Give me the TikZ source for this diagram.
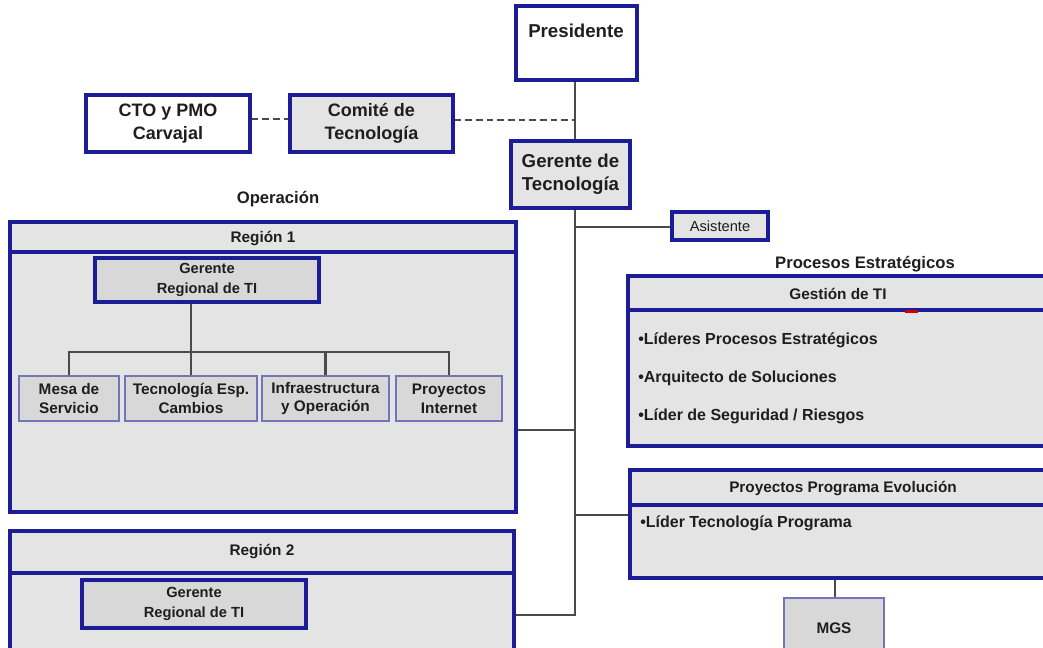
\documentclass[tikz,border=0pt]{standalone}
\usepackage{fontspec}
\setmainfont{Liberation Sans}
\definecolor{frame}{HTML}{1C1C96}
\definecolor{soft}{HTML}{7474B8}
\definecolor{panel}{HTML}{E4E4E4}
\definecolor{innerfill}{HTML}{D8D8D8}
\definecolor{wire}{HTML}{4A4A4A}
\definecolor{ink}{HTML}{1E1E1E}
\newcommand{\fs}[2]{\fontsize{#1}{#2}\selectfont}
\begin{document}
\begin{tikzpicture}[x=0.75pt,y=-0.75pt,
  size/.style 2 args={minimum width=#1*0.75pt,minimum height=#2*0.75pt},
  box/.style={draw=frame,line width=2.5pt,fill=panel,inner sep=0pt,text=ink,align=center,font=\bfseries\fs{13.5}{17}},
  whitebox/.style={box,fill=white},
  panelbox/.style={draw=frame,line width=2.5pt,fill=panel,inner sep=0pt},
  subbox/.style={draw=frame,line width=2.3pt,fill=innerfill,inner sep=0pt,text=ink,align=center,font=\bfseries\fs{11}{14.5}},
  unitbox/.style={draw=soft,line width=1.8pt,fill=innerfill,inner sep=0pt,text=ink,align=center,font=\bfseries\fs{11.5}{14}},
  hdr/.style={text=ink,font=\bfseries\fs{11.5}{14},inner sep=0pt},
  bullet/.style={text=ink,font=\bfseries\fs{12}{14},inner sep=0pt,anchor=west},
  title/.style={text=ink,font=\bfseries\fs{12.5}{14},inner sep=0pt},
  rule/.style={draw=frame,line width=2.5pt},
  link/.style={draw=wire,line width=1.6pt},
  dotlink/.style={draw=wire,line width=1.6pt,dash pattern=on 5pt off 3pt}]
\useasboundingbox (0,0) rectangle (1043,647);
\clip (0,0) rectangle (1043,647);

% top of the chart
\node[whitebox,size={121}{74}] (pres) at (576.5,43) {};
\node[text=ink,font=\bfseries\fs{14}{17},inner sep=0pt] (prestext) at (576,31) {Presidente};
\node[whitebox,size={164}{57}] (cto) at (168,123.5) {CTO y PMO\\Carvajal};
\node[box,size={163}{57}] (comite) at (371.5,123.5) {Comit\'e de\\Tecnolog\'ia};
\node[box,font=\bfseries\fs{14}{17},size={119}{67}] (gtec) at (570.5,174.5) {Gerente de\\Tecnolog\'ia};
\node[box,font=\fs{11}{13},line width=2.3pt,size={96}{28}] (asis) at (720,226) {Asistente};

% trunk and junction points
\coordinate (trunk) at (575,615);
\coordinate (j1) at (575,430);
\coordinate (j2) at (575,515);
\coordinate (ja) at (575,227);

% Operación: Región 1
\node[title] (oper) at (278,199) {Operaci\'on};
\node[panelbox,size={506}{290}] (reg1) at (263,367) {};
\draw[rule] (10,252) -- (516,252);
\node[hdr] (reg1h) at (263,238) {Regi\'on 1};
\node[subbox,size={224}{44}] (ger1) at (207,280) {Gerente\\Regional de TI};
\node[unitbox,size={100}{45}] (mesa) at (69,398.5) {Mesa de\\Servicio};
\node[unitbox,size={132}{45}] (tesp) at (191,398.5) {Tecnolog\'ia Esp.\\Cambios};
\node[unitbox,size={127}{45}] (infra) at (325.5,398.5) {Infraestructura\\y Operaci\'on};
\node[unitbox,size={106}{45}] (pint) at (449,398.5) {Proyectos\\Internet};
\coordinate (bus) at (191,352);
\draw[link] (bus |- ger1.south) -- (bus);
\draw[link] (mesa.north) |- (pint.north |- bus) -- (pint.north);
\draw[link] (tesp.north) -- (tesp.north |- bus);
\draw[link] (infra.north) -- (infra.north |- bus);

% Región 2
\node[panelbox,size={504}{139}] (reg2) at (262,600.5) {};
\draw[rule] (10,573) -- (514,573);
\node[hdr] (reg2h) at (262,551) {Regi\'on 2};
\node[subbox,size={224}{48}] (ger2) at (194,604) {Gerente\\Regional de TI};

% Procesos Estratégicos
\node[title] (proc) at (865,264) {Procesos Estrat\'egicos};
\node[panelbox,size={432}{170}] (gti) at (844,361) {};
\draw[rule] (628,310) -- (1060,310);
\draw[draw=red!80!black,line width=1.6pt] (905,311.5) -- (918,311.5);
\node[hdr] (gtih) at (838,294) {Gesti\'on de TI};
\node[bullet] (b1) at (638,340) {\textbullet L\'ideres Procesos Estrat\'egicos};
\node[bullet] (b2) at (638,378) {\textbullet Arquitecto de Soluciones};
\node[bullet] (b3) at (638,416) {\textbullet L\'ider de Seguridad / Riesgos};

% Proyectos Programa Evolución
\node[panelbox,size={430}{108}] (ppe) at (845,524) {};
\draw[rule] (630,505) -- (1060,505);
\node[hdr] (ppeh) at (843,488) {Proyectos Programa Evoluci\'on};
\node[bullet] (b4) at (640,523) {\textbullet L\'ider Tecnolog\'ia Programa};
\node[unitbox,size={100}{62}] (mgs) at (834,629) {};
\node[text=ink,font=\bfseries\fs{11.5}{14},inner sep=0pt] (mgstext) at (834,628) {MGS};

% connectors
\draw[link] (pres.south -| ja) -- (gtec.north -| ja);
\draw[dotlink] (cto.east |- 0,119) -- (comite.west |- 0,119);
\draw[dotlink] (comite.east |- 0,120) -- (ja |- 0,120);
\draw[link] (gtec.south -| ja) -- (trunk) -- (trunk -| reg2.east);
\draw[link] (ja) -- (asis.west |- ja);
\draw[link] (j1) -- (reg1.east |- j1);
\draw[link] (j2) -- (ppe.west |- j2);
\draw[link] (mgs.north -| 835,0) -- (ppe.south -| 835,0);
\end{tikzpicture}
\end{document}
